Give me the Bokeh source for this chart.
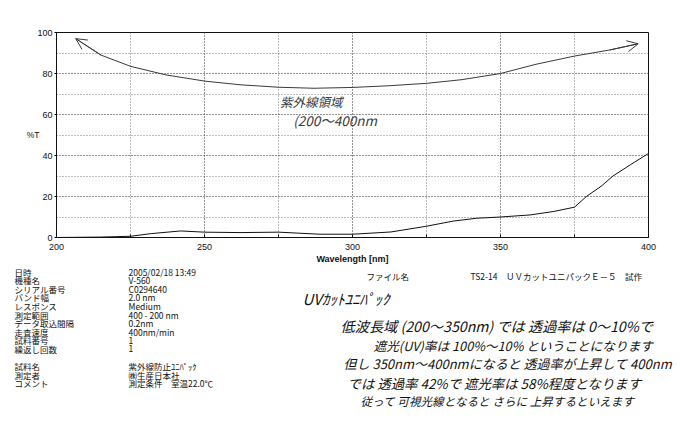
from bokeh.plotting import figure
from bokeh.layouts import column
from bokeh.models import Range1d, SingleIntervalTicker, Arrow, OpenHead
from bokeh.core.properties import value
from bokeh.embed import file_html
from bokeh.resources import INLINE

# ---- measured spectrum (%T vs wavelength) ----
wavelength = [200, 215, 225, 232, 242, 250, 262, 275, 289, 300, 313, 325, 334,
              342, 350, 360, 368, 375, 379, 384, 388, 394, 400]
transmittance = [0.0, 0.2, 0.6, 1.9, 3.2, 2.6, 2.4, 2.6, 1.6, 1.6, 2.7, 5.5, 8.0,
                 9.4, 10.0, 11.0, 12.7, 14.8, 20.0, 25.0, 30.0, 35.6, 41.0]

# ---- hand-drawn UV band curve (with arrows at both ends) ----
band_wavelength = [206.5, 215, 225, 237, 250, 262, 275, 287, 300, 312, 325, 337,
                   350, 362, 375, 387, 396.5]
band_transmittance = [97.0, 89.0, 83.5, 79.3, 76.3, 74.5, 73.3, 72.8, 73.2, 74.0,
                      75.2, 77.0, 80.0, 84.5, 88.5, 91.5, 94.5]

x_label = "Wavelength [nm]"
y_label = "%T"
chart_note = ["紫外線領域", "(200～400nm"]

meta_labels = ["日時", "機種名", "シリアル番号", "バンド幅", "レスポンス", "測定範囲",
               "データ取込間隔", "走査速度", "試料番号", "繰返し回数", "",
               "試料名", "測定者", "コメント"]
meta_values = ["2005/02/18 13:49", "V-560", "C0294640", "2.0 nm", "Medium",
               "400 - 200 nm", "0.2nm", "400nm/min", "1", "1", "",
               "紫外線防止ﾕﾆﾊﾟｯｸ", "㈱生産日本社", "測定条件　室温22.0℃"]
file_label = "ファイル名"
file_name = "TS2-14　ＵＶカットユニパックＥ－５　試作"
hand_title = "UVｶｯﾄﾕﾆﾊﾟｯｸ"
hand_lines = [
    "低波長域 (200～350nm) では 透過率は 0～10%で",
    "遮光(UV)率は 100%～10% ということになります",
    "但し 350nm～400nmになると 透過率が上昇して 400nm",
    "では 透過率 42%で 遮光率は 58%程度となります",
    "従って 可視光線となると さらに 上昇するといえます",
]

W = 680
H1 = 266
H2 = 173
FRAME_L = 56
FRAME_R = 648
INK = "#111111"
PENCIL = "#3a3a3a"
SANS = "Liberation Sans"
JP = "Noto Sans CJK JP"

# ---------------- chart ----------------
p = figure(width=W, height=H1, output_backend="svg", toolbar_location=None,
           x_range=Range1d(200, 400), y_range=Range1d(0, 100),
           min_border_left=FRAME_L, min_border_right=W - FRAME_R, min_border_top=32,
           min_border_bottom=28)
p.background_fill_color = "white"
p.border_fill_color = "white"
p.outline_line_color = INK
p.outline_line_width = 1

p.xaxis.ticker = SingleIntervalTicker(interval=50, num_minor_ticks=2)
p.yaxis.ticker = SingleIntervalTicker(interval=20, num_minor_ticks=2)
for ax in (p.xaxis, p.yaxis):
    ax.axis_line_color = INK
    ax.major_label_text_font = SANS
    ax.major_label_text_font_size = "9px"
    ax.major_label_text_color = INK
    ax.axis_label_text_font = SANS
    ax.axis_label_text_font_size = "9px"
    ax.axis_label_text_font_style = "bold"
    ax.axis_label_text_color = INK
    ax.major_tick_in = 0
    ax.minor_tick_out = 0
p.xaxis.major_tick_out = 0
p.xaxis.minor_tick_in = 3
p.xaxis.minor_tick_line_color = INK
p.yaxis.major_tick_out = 2
p.yaxis.minor_tick_in = 0
p.xaxis.major_label_standoff = 6
p.yaxis.major_label_standoff = 2
p.xaxis.axis_label = x_label
p.xaxis.axis_label_standoff = 1
p.yaxis.axis_label = y_label
p.yaxis.axis_label_standoff = -5
p.yaxis.axis_label_text_font_style = "normal"
p.yaxis.axis_label_text_font_size = "8.5px"
try:
    p.yaxis.axis_label_orientation = "horizontal"
except Exception:
    pass

for g in (p.xgrid, p.ygrid):
    g.grid_line_color = "#555555"
    g.grid_line_dash = "1 2"
    g.grid_line_width = 0.8
    g.minor_grid_line_color = "#555555"
    g.minor_grid_line_dash = "1 2"
    g.minor_grid_line_width = 0.8

p.line(wavelength, transmittance, line_color=INK, line_width=1)
p.line(band_wavelength, band_transmittance, line_color=PENCIL, line_width=1)
p.add_layout(Arrow(end=OpenHead(size=11, line_color=PENCIL, line_width=1),
                   x_start=band_wavelength[1], y_start=band_transmittance[1],
                   x_end=band_wavelength[0], y_end=band_transmittance[0],
                   line_color=PENCIL, line_width=1))
p.add_layout(Arrow(end=OpenHead(size=11, line_color=PENCIL, line_width=1),
                   x_start=band_wavelength[-2], y_start=band_transmittance[-2],
                   x_end=band_wavelength[-1], y_end=band_transmittance[-1],
                   line_color=PENCIL, line_width=1))

p.text(x=[275.5, 280.0], y=[66.5, 57.5], text=chart_note,
       text_font=value(JP), text_font_size=["12.5px", "13.5px"], text_color=PENCIL,
       text_baseline="middle", text_align="left", text_font_style="italic")

# ---------------- notes / metadata below (page-pixel coordinates) ----------------
q = figure(width=W, height=H2, output_backend="svg", toolbar_location=None,
           x_range=Range1d(0, W), y_range=Range1d(H2, 0),
           x_axis_location=None, y_axis_location=None,
           min_border=0, min_border_left=0, min_border_right=0,
           min_border_top=0, min_border_bottom=0)
q.grid.visible = False
q.outline_line_color = None
q.background_fill_color = "white"
q.border_fill_color = "white"

# keep the two canvases independent (no frame alignment in the column)
for fig in (p, q):
    try:
        fig.frame_align = False
    except Exception:
        pass

ROW0 = 5.0
ROWH = 8.6
rows = [ROW0 + ROWH * i for i in range(len(meta_labels))]


def add_texts(xs, ys, texts, size, italic=False):
    q.text(x=xs, y=ys, text=texts, text_font=value(JP), text_font_size=size,
           text_color=INK, text_baseline="middle", text_align="left",
           text_font_style="italic" if italic else "normal")


n = len(meta_labels)
add_texts([14] * n, rows, meta_labels, "8.5px")
add_texts([128] * n, rows, meta_values, "8.5px")
add_texts([366, 470], [9, 9], [file_label, file_name], "8.5px")
add_texts([302], [32], [hand_title], "15px", italic=True)
add_texts([340, 373, 343, 347, 360], [59, 79, 97, 116, 134], hand_lines,
          ["14.2px", "12.7px", "13px", "13.4px", "11.6px"], italic=True)

layout = column(p, q, spacing=0)
open("out.html", "w").write(file_html(layout, INLINE))
